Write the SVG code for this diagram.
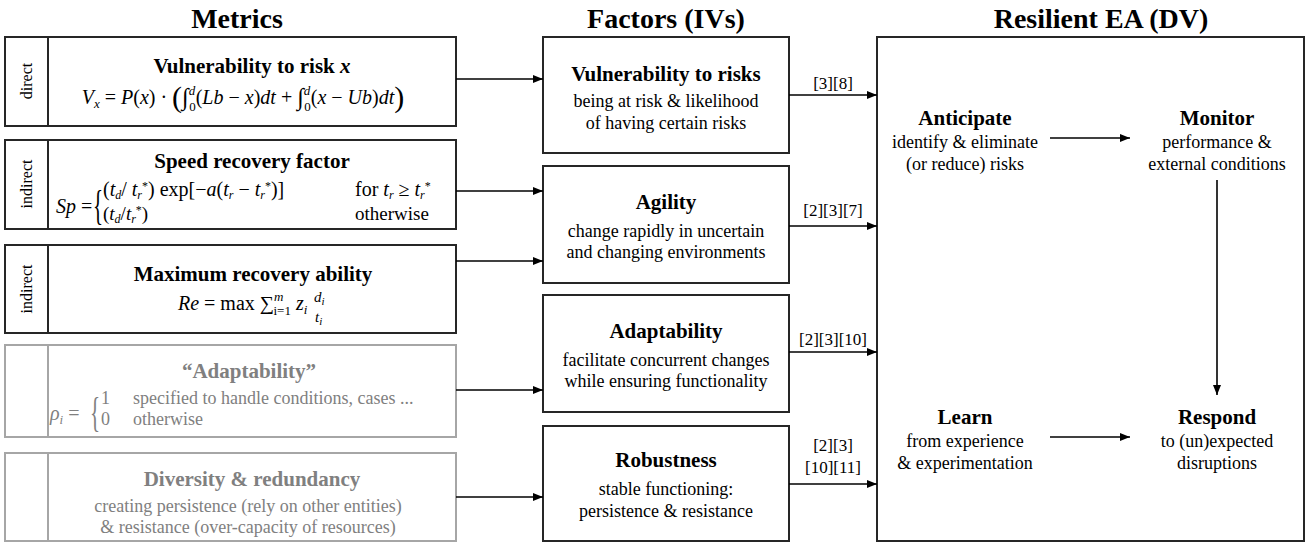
<svg xmlns="http://www.w3.org/2000/svg" width="1309" height="543" viewBox="0 0 1309 543" font-family="'Liberation Serif', 'Times New Roman', serif">
<defs>
<marker id="arr" markerUnits="userSpaceOnUse" markerWidth="10" markerHeight="8" refX="10" refY="4" orient="auto">
<path d="M0,0 L10,4 L0,8 z" fill="#000"/>
</marker>
<style>
text{font-family:'Liberation Serif','Times New Roman',serif;fill:#000}
.box{fill:#fff;stroke:#262626;stroke-width:2}
.gbox{fill:#fff;stroke:#a6a6a6;stroke-width:2}
.hdr{font-weight:bold;font-size:28px;text-anchor:middle}
.ttl{font-weight:bold;font-size:21px;text-anchor:middle}
.st{font-size:18px;text-anchor:middle}
.lab{font-size:16px;text-anchor:middle}
.math{font-size:20px}
.m19{font-size:19px}
.i{font-style:italic}
.sm{font-size:13px}
.xs{font-size:12px}
.g{fill:#808080}
.ref{font-size:17px;text-anchor:middle}
.conn{stroke:#000;stroke-width:1.6;fill:none;marker-end:url(#arr)}
</style>
</defs>

<g id="headers">
<text class="hdr" x="237" y="28">Metrics</text>
<text class="hdr" x="666" y="28">Factors (IVs)</text>
<text class="hdr" x="1101" y="28">Resilient EA (DV)</text>
</g>

<g id="m1">
<rect class="box" x="5" y="37" width="451" height="89"/>
<line x1="48" y1="37" x2="48" y2="126" stroke="#262626" stroke-width="2"/>
<text class="lab" transform="translate(32,81) rotate(-90)">direct</text>
<text class="ttl" x="252" y="73">Vulnerability  to risk <tspan font-style="italic">x</tspan></text>
<text class="math" x="243" y="104" text-anchor="middle"><tspan class="i">V</tspan><tspan class="i sm" dy="4">x</tspan><tspan dy="-4"> = </tspan><tspan class="i">P</tspan>(<tspan class="i">x</tspan>) · <tspan font-size="30" dy="3">(</tspan><tspan font-size="24" dy="-2">∫</tspan><tspan class="i sm" dy="-10">d</tspan><tspan class="sm" dx="-6" dy="16">0</tspan><tspan dy="-7">(</tspan><tspan class="i">Lb</tspan> − <tspan class="i">x</tspan>)<tspan class="i">dt</tspan> + <tspan font-size="24" dy="1">∫</tspan><tspan class="i sm" dy="-10">d</tspan><tspan class="sm" dx="-6" dy="16">0</tspan><tspan dy="-7">(</tspan><tspan class="i">x</tspan> − <tspan class="i">Ub</tspan>)<tspan class="i">dt</tspan><tspan font-size="30" dy="3">)</tspan></text>
</g>

<g id="m2">
<rect class="box" x="5" y="140" width="451" height="89"/>
<line x1="48" y1="140" x2="48" y2="229" stroke="#262626" stroke-width="2"/>
<text class="lab" transform="translate(32,184) rotate(-90)">indirect</text>
<text class="ttl" x="252" y="168">Speed recovery factor</text>
<text class="math" x="56" y="213"><tspan class="i">Sp</tspan> =</text>
<text x="0" y="0" font-size="42" transform="translate(93,219) scale(0.5,1)">{</text>
<text class="math" x="103" y="196">(<tspan class="i">t</tspan><tspan class="i xs" dy="3">d</tspan><tspan dy="-3">/ </tspan><tspan class="i">t</tspan><tspan class="i xs" dy="3">r</tspan><tspan class="xs" dy="-9">*</tspan><tspan dy="6">) exp[−</tspan><tspan class="i">a</tspan>(<tspan class="i">t</tspan><tspan class="i xs" dy="3">r</tspan><tspan dy="-3"> − </tspan><tspan class="i">t</tspan><tspan class="i xs" dy="3">r</tspan><tspan class="xs" dy="-9">*</tspan><tspan dy="6">)]</tspan></text>
<text class="math m19" x="103" y="220">(<tspan class="i">t</tspan><tspan class="i xs" dy="3">d</tspan><tspan dy="-3">/</tspan><tspan class="i">t</tspan><tspan class="i xs" dy="3">r</tspan><tspan class="xs" dy="-9">*</tspan><tspan dy="6">)</tspan></text>
<text class="math" x="355" y="196">for <tspan class="i">t</tspan><tspan class="i xs" dy="3">r</tspan><tspan dy="-3"> ≥  </tspan><tspan class="i">t</tspan><tspan class="i xs" dy="3">r</tspan><tspan class="xs" dy="-9">*</tspan></text>
<text class="math m19" x="355" y="220">otherwise</text>
</g>

<g id="m3">
<rect class="box" x="5" y="245" width="451" height="88"/>
<line x1="48" y1="245" x2="48" y2="333" stroke="#262626" stroke-width="2"/>
<text class="lab" transform="translate(32,289) rotate(-90)">indirect</text>
<text class="ttl" x="253" y="281">Maximum  recovery ability</text>
<text class="math" x="178" y="310"><tspan class="i">Re</tspan> = max ∑<tspan class="i sm" dy="-9">m</tspan><tspan class="sm" dx="-10" dy="14">i=1</tspan><tspan dy="-5"> </tspan><tspan class="i">z</tspan><tspan class="i sm" dy="4">i</tspan></text>
<text class="i" x="314" y="302" font-size="15">d<tspan font-size="11" dy="3">i</tspan></text>
<text class="i" x="315" y="322" font-size="15">t<tspan font-size="11" dy="3">i</tspan></text>
</g>

<g id="m4">
<rect class="gbox" x="5" y="345" width="451" height="92"/>
<line x1="48" y1="345" x2="48" y2="437" stroke="#a6a6a6" stroke-width="2"/>
<text class="ttl g" x="249" y="378">“Adaptability”</text>
<text class="math g" x="50" y="420"><tspan class="i">ρ</tspan><tspan class="i sm" dy="4">i</tspan><tspan dy="-4"> =</tspan></text>
<text class="g" x="0" y="0" font-size="42" transform="translate(90,426) scale(0.5,1)">{</text>
<text class="g" x="101" y="404" font-size="18">1</text>
<text class="g" x="101" y="425" font-size="18">0</text>
<text class="g" x="133" y="404" font-size="18">specified to handle conditions, cases ...</text>
<text class="g" x="133" y="425" font-size="18">otherwise</text>
</g>

<g id="m5">
<rect class="gbox" x="5" y="453" width="451" height="88"/>
<line x1="48" y1="453" x2="48" y2="541" stroke="#a6a6a6" stroke-width="2"/>
<text class="ttl g" x="252" y="486">Diversity &amp; redundancy</text>
<text class="st g" x="248" y="512">creating persistence (rely on other entities)</text>
<text class="st g" x="248" y="533">&amp; resistance (over-capacity  of resources)</text>
</g>

<g id="f1">
<rect class="box" x="543" y="37" width="246" height="116"/>
<text class="ttl" x="666" y="81">Vulnerability  to risks</text>
<text class="st" x="666" y="107">being at risk &amp; likelihood</text>
<text class="st" x="666" y="129">of having  certain risks</text>
</g>

<g id="f2">
<rect class="box" x="543" y="166" width="246" height="117"/>
<text class="ttl" x="666" y="209">Agility</text>
<text class="st" x="666" y="237">change rapidly in uncertain</text>
<text class="st" x="666" y="258">and changing environments</text>
</g>

<g id="f3">
<rect class="box" x="543" y="295" width="246" height="117"/>
<text class="ttl" x="666" y="338">Adaptability</text>
<text class="st" x="666" y="366">facilitate concurrent changes</text>
<text class="st" x="666" y="387">while ensuring functionality</text>
</g>

<g id="f4">
<rect class="box" x="543" y="426" width="246" height="115"/>
<text class="ttl" x="666" y="467">Robustness</text>
<text class="st" x="666" y="495">stable functioning:</text>
<text class="st" x="666" y="517">persistence &amp; resistance</text>
</g>

<g id="dv">
<rect class="box" x="877" y="37" width="427" height="504"/>
</g>

<g id="anticipate">
<text class="ttl" x="965" y="125">Anticipate</text>
<text class="st" x="965" y="148">identify &amp; eliminate</text>
<text class="st" x="965" y="170">(or reduce) risks</text>
</g>
<g id="monitor">
<text class="ttl" x="1217" y="125">Monitor</text>
<text class="st" x="1217" y="148">performance &amp;</text>
<text class="st" x="1217" y="170">external conditions</text>
</g>
<g id="learn">
<text class="ttl" x="965" y="424">Learn</text>
<text class="st" x="965" y="447">from experience</text>
<text class="st" x="965" y="469">&amp; experimentation</text>
</g>
<g id="respond">
<text class="ttl" x="1217" y="424">Respond</text>
<text class="st" x="1217" y="447">to (un)expected</text>
<text class="st" x="1217" y="469">disruptions</text>
</g>

<g id="connectors">
<line class="conn" x1="456" y1="79" x2="543" y2="79"/>
<line class="conn" x1="456" y1="191" x2="543" y2="191"/>
<line class="conn" x1="456" y1="261" x2="543" y2="261"/>
<line class="conn" x1="456" y1="390" x2="543" y2="390"/>
<line class="conn" x1="456" y1="497" x2="543" y2="497"/>
<line class="conn" x1="789" y1="95" x2="877" y2="95"/>
<line class="conn" x1="789" y1="226" x2="877" y2="226"/>
<line class="conn" x1="789" y1="352" x2="877" y2="352"/>
<line class="conn" x1="789" y1="484" x2="877" y2="484"/>
<line class="conn" x1="1050" y1="138" x2="1130" y2="138"/>
<line class="conn" x1="1217" y1="180" x2="1217" y2="395"/>
<line class="conn" x1="1050" y1="437" x2="1130" y2="437"/>
<text class="ref" x="833" y="89">[3][8]</text>
<text class="ref" x="833" y="216">[2][3][7]</text>
<text class="ref" x="833" y="345">[2][3][10]</text>
<text class="ref" x="833" y="451">[2][3]</text>
<text class="ref" x="833" y="473">[10][11]</text>
</g>
</svg>
